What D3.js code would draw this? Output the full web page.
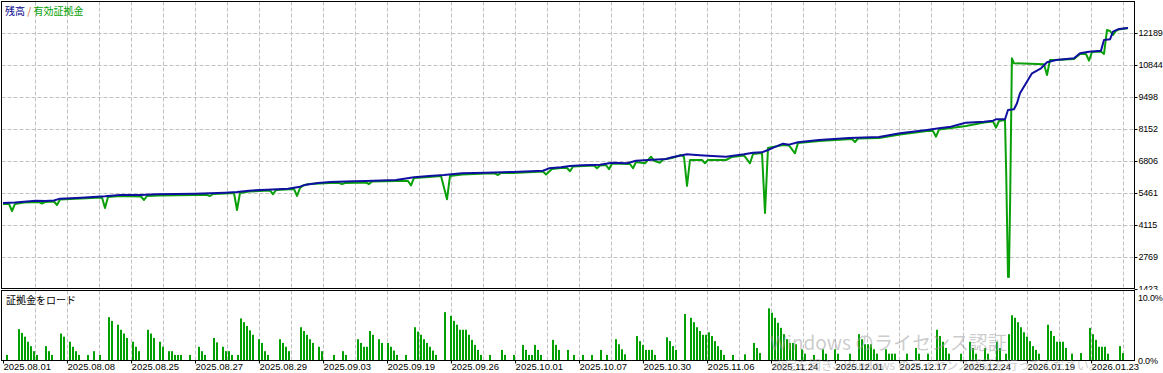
<!DOCTYPE html>
<html>
<head>
<meta charset="utf-8">
<script src="https://cdn.jsdelivr.net/npm/d3@7"></script>
<style>
  body { margin: 0; background: #fff; }
  svg text { font-family: "Liberation Sans", Arial, sans-serif; }
  .jp { font-family: "Noto Sans CJK JP", sans-serif; }
</style>
</head>
<body>
<div id="chart"></div>
<script>
// balance / equity chart with margin load pane (MT5 style)

const yTicks = [1423, 2769, 4115, 5461, 6806, 8152, 9498, 10844, 12189];
const loadTicks = [0, 10];

const dateLabels = ["2025.08.01", "2025.08.08", "2025.08.25", "2025.08.27", "2025.08.29", "2025.09.03",
  "2025.09.19", "2025.09.26", "2025.10.01", "2025.10.07", "2025.10.30", "2025.11.06",
  "2025.11.24", "2025.12.01", "2025.12.17", "2025.12.24", "2026.01.19", "2026.01.23"];
// deal number under each date label
const dateDeal = [0, 21.3, 42.7, 64, 85.3, 106.7, 128, 149.3, 170.7, 192, 213.3, 234.7, 256, 277.3, 298.7, 320, 341.3, 362.7];

// [deal, balance]
const balance = [[0,5040],[4,5061],[7,5096],[11,5138],[14,5124],[17,5145],[19,5222],[26,5264],[34,5323],[39,5377],
  [46,5377],[51,5406],[64,5432],[74,5475],[78,5503],[82,5559],[88,5601],[95,5643],[99,5727],[101,5811],
  [105,5881],[109,5923],[117,5952],[121,5965],[131,6008],[137,6120],[142,6176],[147,6218],[153,6288],[161,6313],
  [170,6344],[176,6372],[180,6397],[182,6498],[186,6540],[189,6596],[193,6625],[199,6651],[203,6736],[208,6708],
  [211,6820],[215,6848],[221,6891],[223,6961],[228,7087],[231,7059],[235,7031],[241,6989],[247,7087],[250,7157],
  [253,7171],[255,7269],[257,7382],[260,7536],[262,7494],[265,7592],[272,7690],[282,7774],[292,7816],[299,7970],
  [308,8110],[312,8180],[316,8251],[319,8349],[321,8419],[327,8461],[330,8503],[331,8559],[334,8559],[335,8952],
  [337,8980],[338,9232],[339,9653],[341,10073],[343,10494],[346,10705],[348,10957],[351,11055],[357,11125],[359,11335],
  [362,11405],[366,11447],[367,11896],[369,11924],[370,12246],[372,12359],[375,12401]];

// [deal, equity]
const equity = [[0,5000],[2,5000],[3,4704],[4,5000],[7,5061],[12,5082],[13,5019],[14,5082],[17,5103],[18,4956],
  [19,5187],[26,5229],[33,5271],[34,4830],[35,5292],[39,5335],[46,5314],[47,5166],[48,5335],[52,5356],
  [64,5377],[68,5377],[69,5335],[70,5419],[74,5440],[77,5461],[78,4746],[79,5461],[82,5524],[89,5566],
  [90,5406],[91,5587],[97,5629],[98,5335],[99,5671],[100,5776],[102,5839],[109,5881],[112,5881],[113,5839],
  [114,5881],[121,5902],[122,5839],[123,5944],[131,5965],[135,5965],[136,5776],[137,6092],[142,6134],[146,6176],
  [148,5196],[149,6176],[153,6239],[161,6281],[164,6281],[165,6218],[166,6302],[170,6302],[180,6365],[181,6239],
  [183,6470],[186,6512],[188,6512],[189,6373],[190,6575],[197,6617],[198,6500],[199,6617],[201,6638],[202,6457],
  [203,6701],[209,6680],[210,6500],[211,6764],[214,6708],[216,6987],[217,6819],[219,6735],[220,6870],[223,6933],
  [226,7059],[227,6975],[228,5755],[229,6848],[233,6848],[234,6710],[235,6848],[241,6848],[243,6975],[247,7038],
  [249,6710],[250,7101],[253,7143],[254,4620],[255,7353],[260,7480],[262,7459],[264,7130],[265,7564],[272,7648],
  [283,7732],[284,7606],[285,7753],[292,7774],[299,7921],[308,8068],[310,8068],[311,7829],[312,8131],[316,8195],
  [321,8279],[327,8426],[330,8468],[331,8207],[332,8489],[334,8531],[334.4,6302],[334.7,4115],[335,1928],[335.3,1928],
  [335.7,5027],[336,8039],[336.3,11126],[337,10916],[347,10874],[348,10424],[349,11055],[351,11055],[357,11097],[359,11307],
  [361,11307],[362,11025],[363,11391],[366,11412],[367,11307],[368,12316],[369,12274],[370,12106],[371,12274],[372,12338],
  [375,12401]];

// [deal, margin load %]
const marginLoad = [[1,0.8],[5,4.9],[6,4.3],[7,3.7],[8,2.9],[9,2.2],[10,1.4],[11,0.8],[14,2.2],[15,1.4],
  [16,0.8],[19,4.2],[20,3.7],[22,2.9],[23,2.1],[24,1.4],[25,0.8],[28,0.8],[30,1.4],[32,0.8],
  [35,6.8],[36,6.2],[38,5.6],[39,4.8],[40,4.2],[41,3.5],[43,2.9],[44,2.1],[45,1.4],[48,4.8],
  [49,4.2],[50,3.5],[52,2.9],[53,2.1],[55,1.4],[56,1.4],[57,0.8],[58,0.8],[59,0.8],[62,0.8],
  [65,2.1],[66,1.4],[67,0.8],[70,3.5],[71,2.8],[73,2.1],[74,1.4],[75,1.4],[76,0.8],[78,0.8],
  [79,6.6],[80,6.0],[81,5.4],[82,4.7],[83,4.0],[85,3.3],[86,2.7],[87,1.4],[88,0.8],[92,3.3],
  [93,2.7],[94,2.1],[95,1.4],[99,5.2],[100,4.6],[101,4.0],[102,3.3],[103,2.7],[105,2.1],[106,1.4],
  [110,0.8],[113,1.4],[114,0.8],[118,3.3],[119,2.7],[120,2.1],[121,2.1],[122,4.6],[123,4.0],[125,3.3],
  [126,2.7],[128,2.7],[129,2.1],[130,1.5],[131,0.8],[134,0.8],[137,5.2],[138,4.5],[139,4.0],[140,3.3],
  [141,2.7],[142,2.1],[143,1.5],[144,0.8],[147,7.6],[149,7.0],[150,6.2],[151,5.6],[152,4.8],[153,4.8],
  [154,4.8],[155,4.0],[156,3.2],[157,2.4],[158,1.6],[159,0.8],[162,0.8],[166,1.6],[167,0.8],[170,0.8],
  [173,2.4],[174,1.6],[175,0.8],[176,0.8],[177,2.4],[178,1.6],[179,0.8],[183,3.2],[184,2.4],[185,1.6],
  [188,1.6],[190,0.8],[193,0.8],[196,0.8],[199,1.6],[201,0.8],[204,3.3],[205,2.5],[206,1.7],[207,0.9],
  [211,3.8],[212,3.0],[213,2.4],[214,1.6],[215,1.6],[216,1.6],[217,0.8],[221,3.6],[222,3.0],[223,2.2],
  [224,1.6],[227,7.3],[229,6.7],[230,6.0],[231,5.2],[232,4.6],[233,4.0],[234,4.0],[235,4.4],[236,3.8],
  [237,3.0],[238,2.2],[239,1.6],[240,0.8],[243,0.8],[247,0.9],[250,2.7],[251,1.9],[252,1.1],[255,8.2],
  [256,7.5],[257,6.7],[258,5.9],[259,5.1],[260,4.1],[261,3.3],[262,2.7],[263,2.7],[264,2.5],[266,1.7],
  [267,1.0],[270,0.8],[273,1.7],[274,1.0],[277,1.7],[278,1.0],[282,1.0],[285,4.1],[286,3.3],[287,2.5],
  [288,2.5],[289,2.5],[290,1.7],[291,1.0],[294,1.7],[295,1.0],[296,1.0],[297,1.0],[301,1.0],[304,1.9],
  [305,1.0],[308,1.0],[311,4.8],[312,3.8],[313,2.9],[314,1.9],[315,1.0],[319,1.0],[322,2.9],[323,1.9],
  [324,1.0],[327,1.9],[328,1.0],[331,2.9],[332,1.9],[334,1.0],[335,4.1],[336,7.1],[337,6.7],[338,6.0],
  [339,5.2],[340,4.4],[341,3.7],[342,3.0],[343,2.2],[344,1.6],[345,1.0],[348,5.6],[349,4.6],[350,3.8],
  [351,2.9],[352,2.9],[353,2.9],[354,1.9],[356,1.0],[359,1.1],[362,5.1],[363,4.1],[364,3.2],[365,2.1],
  [366,2.1],[367,2.1],[368,1.0],[372,2.2],[373,1.1]];

const width = 1163, height = 373;
const paneTop = {x0: 1.5, x1: 1134.5, y0: 1.5, y1: 288.5};
const paneBot = {x0: 1.5, x1: 1134.5, y0: 290.5, y1: 360.5};
const GRID = 32 / 3;   // deals per grid column

const svg = d3.select("#chart").append("svg")
    .attr("width", width)
    .attr("height", height);

svg.append("rect").attr("width", width).attr("height", height).attr("fill", "#fff");

const x = d3.scaleLinear().domain([0, 375]).range([3, 1128]);
const y = d3.scaleLinear().domain([1423, 12189]).range([289, 33]);
const yL = d3.scaleLinear().domain([0, 10]).range([360, 297]);

const gridDeals = d3.range(1, 36).map(k => k * GRID);

// ---- top pane ----
svg.append("clipPath").attr("id", "clipTop")
  .append("rect").attr("x", paneTop.x0).attr("y", paneTop.y0)
  .attr("width", paneTop.x1 - paneTop.x0).attr("height", paneTop.y1 - paneTop.y0);

const gTop = svg.append("g");

gTop.selectAll(".vgrid").data(gridDeals).join("line")
    .attr("x1", d => Math.round(x(d)) + 0.5).attr("x2", d => Math.round(x(d)) + 0.5)
    .attr("y1", paneTop.y0).attr("y2", paneTop.y1)
    .attr("stroke", "#c0c0c0").attr("stroke-dasharray", "4,2");

gTop.selectAll(".hgrid").data(yTicks.slice(1)).join("line")
    .attr("x1", paneTop.x0).attr("x2", paneTop.x1)
    .attr("y1", d => Math.round(y(d)) + 0.5).attr("y2", d => Math.round(y(d)) + 0.5)
    .attr("stroke", "#c0c0c0").attr("stroke-dasharray", "4,2");

const line = d3.line().x(d => x(d[0])).y(d => y(d[1]));

gTop.append("path")
    .datum(equity)
    .attr("clip-path", "url(#clipTop)")
    .attr("fill", "none")
    .attr("stroke", "#0aa00a")
    .attr("stroke-width", 2)
    .attr("stroke-linejoin", "round")
    .attr("d", line);

gTop.append("path")
    .datum(balance)
    .attr("clip-path", "url(#clipTop)")
    .attr("fill", "none")
    .attr("stroke", "#1010a0")
    .attr("stroke-width", 2)
    .attr("stroke-linejoin", "round")
    .attr("d", line);

// right value axis
const axY = svg.append("g")
    .attr("transform", `translate(${paneTop.x1},0)`)
    .call(d3.axisRight(y).tickValues(yTicks).tickSize(3).tickPadding(1).tickFormat(d3.format("d")));
axY.select(".domain").remove();
axY.selectAll("text").attr("font-size", 9).attr("letter-spacing", -0.2).attr("fill", "#000")
    .attr("font-family", "Liberation Sans, Arial, sans-serif");

gTop.append("rect")
    .attr("x", paneTop.x0).attr("y", paneTop.y0)
    .attr("width", paneTop.x1 - paneTop.x0).attr("height", paneTop.y1 - paneTop.y0)
    .attr("fill", "none").attr("stroke", "#000");

const title = svg.append("text").attr("class", "jp")
    .attr("x", 5).attr("y", 15).attr("font-size", 10);
title.append("tspan").attr("fill", "#00008b").text("残高");
title.append("tspan").attr("fill", "#c06020").text(" / ");
title.append("tspan").attr("fill", "#00a000").text("有効証拠金");

// ---- bottom pane (margin load) ----
svg.append("rect").attr("x", 0).attr("y", 290).attr("width", width).attr("height", height - 290)
    .attr("fill", "#fff");

const gBot = svg.append("g");

gBot.selectAll(".vgrid").data(gridDeals).join("line")
    .attr("x1", d => Math.round(x(d)) + 0.5).attr("x2", d => Math.round(x(d)) + 0.5)
    .attr("y1", paneBot.y0).attr("y2", paneBot.y1)
    .attr("stroke", "#c0c0c0").attr("stroke-dasharray", "4,2");

gBot.selectAll(".bar").data(marginLoad).join("rect")
    .attr("x", d => Math.round(x(d[0])))
    .attr("y", d => yL(d[1]))
    .attr("width", 2)
    .attr("height", d => yL(0) - yL(d[1]))
    .attr("fill", "#00a000");

gBot.append("rect")
    .attr("x", paneBot.x0).attr("y", paneBot.y0)
    .attr("width", paneBot.x1 - paneBot.x0).attr("height", paneBot.y1 - paneBot.y0)
    .attr("fill", "none").attr("stroke", "#000");

svg.append("text").attr("class", "jp")
    .attr("x", 6).attr("y", 304).attr("font-size", 10).attr("fill", "#000")
    .text("証拠金をロード");

svg.selectAll(".loadLabel").data(loadTicks).join("text")
    .attr("x", 1138).attr("y", d => yL(d) + 3.5)
    .attr("font-size", 9).attr("letter-spacing", -0.2).attr("fill", "#000")
    .text(d => d3.format(".1f")(d) + "%");

// date axis
const axX = svg.append("g")
    .attr("transform", `translate(0,${paneBot.y1})`)
    .call(d3.axisBottom(x).tickValues(dateDeal).tickSize(3).tickPadding(0)
      .tickFormat((d, i) => dateLabels[i]));
axX.select(".domain").remove();
axX.selectAll("text").attr("text-anchor", "start").attr("dx", 0).attr("font-size", 9.5)
    .attr("fill", "#000").attr("font-family", "Liberation Sans, Arial, sans-serif");

// OS activation watermark seen on the screenshot
svg.append("text").attr("class", "jp")
    .attr("x", 770).attr("y", 350).attr("font-size", 19)
    .attr("fill", "#a0a0a0").attr("fill-opacity", 0.55)
    .text("Windows のライセンス認証");
svg.append("text").attr("class", "jp")
    .attr("x", 773).attr("y", 370).attr("font-size", 12)
    .attr("fill", "#a0a0a0").attr("fill-opacity", 0.55)
    .text("設定を開き、Windows のライセンス認証を行ってください。");
</script>
</body>
</html>
